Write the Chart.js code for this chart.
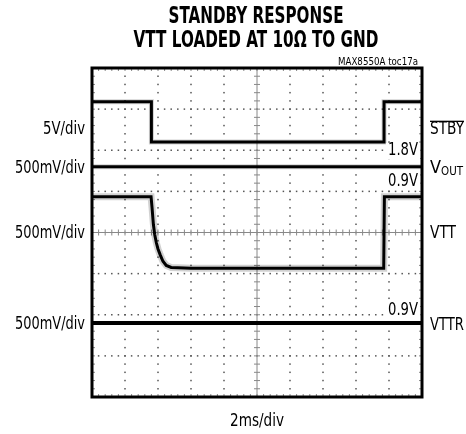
<!DOCTYPE html>
<html>
<head>
<meta charset="utf-8">
<script src="https://cdn.jsdelivr.net/npm/chart.js@4.4.0/dist/chart.umd.min.js"></script>
<style>
  body { margin: 0; background: #fff; }
  #wrap { width: 466px; height: 434px; }
</style>
</head>
<body>
<div id="wrap"><canvas id="scope" width="466" height="434"></canvas></div>
<script>
// time in divisions (2ms/div), level in divisions from the bottom of the screen
const stbyT = [0, 1.8, 1.8, 8.85, 8.85, 10];
const stbyV = [7.18, 7.18, 6.2, 6.2, 7.18, 7.18];
const voutT = [0, 10];
const voutV = [5.6, 5.6];
const vttT = [0, 1.79, 1.82, 1.86, 1.9, 1.95, 2.0, 2.07, 2.15, 2.25, 2.4, 3.0, 8.84, 8.86, 10];
const vttV = [4.87, 4.87, 4.6, 4.2, 3.95, 3.75, 3.6, 3.45, 3.3, 3.2, 3.15, 3.13, 3.13, 4.87, 4.87];
const vttrT = [0, 10];
const vttrV = [1.8, 1.8];

const leftLabels = ['5V/div', '500mV/div', '500mV/div', '500mV/div'];
const leftLevels = [6.5, 5.55, 3.98, 1.75];
const rightLabels = ['STBY', 'VOUT', 'VTT', 'VTTR'];
const rightLevels = [6.5, 5.55, 3.98, 1.75];
const levelTags = ['1.8V', '0.9V', '0.9V'];
const levelTagY = [5.98, 5.25, 2.1];

const NARROW = '"Liberation Sans Narrow", "DejaVu Sans Condensed", "Roboto Condensed", sans-serif';

function pts(t, v) {
    return t.map((x, i) => ({ x: x, y: v[i] }));
}

function fitText(ctx, text, x, y, width, size, weight, align) {
    ctx.save();
    ctx.font = weight + ' ' + size + 'px ' + NARROW;
    const w = ctx.measureText(text).width;
    const s = width / w;
    ctx.translate(x, y);
    ctx.scale(s, 1);
    ctx.textBaseline = 'middle';
    ctx.textAlign = align;
    ctx.fillText(text, 0, 0);
    ctx.restore();
}

// dotted scope graticule with centre cross and edge ticks
const graticule = {
    id: 'graticule',
    beforeDatasetsDraw(chart) {
        const { ctx, chartArea: a, scales: { x, y } } = chart;
        ctx.save();
        ctx.fillStyle = '#555';
        for (let i = 1; i < 10; i++) {
            if (i === 5) continue;
            const px = x.getPixelForValue(i);
            for (let j = 0; j <= 40; j++) {
                ctx.fillRect(px - 0.75, y.getPixelForValue(j * 0.2) - 0.75, 1.5, 1.5);
            }
        }
        for (let j = 1; j < 8; j++) {
            if (j === 4) continue;
            const py = y.getPixelForValue(j);
            for (let i = 0; i <= 50; i++) {
                ctx.fillRect(x.getPixelForValue(i * 0.2) - 0.75, py - 0.75, 1.5, 1.5);
            }
        }
        // centre cross
        ctx.strokeStyle = '#888';
        ctx.lineWidth = 1;
        const cx = x.getPixelForValue(5), cy = y.getPixelForValue(4);
        ctx.beginPath();
        ctx.moveTo(cx, a.top); ctx.lineTo(cx, a.bottom);
        ctx.moveTo(a.left, cy); ctx.lineTo(a.right, cy);
        for (let j = 0; j <= 40; j++) {
            const py = y.getPixelForValue(j * 0.2);
            ctx.moveTo(cx - 3, py); ctx.lineTo(cx + 3, py);
        }
        for (let i = 0; i <= 50; i++) {
            const px = x.getPixelForValue(i * 0.2);
            ctx.moveTo(px, cy - 3); ctx.lineTo(px, cy + 3);
            ctx.moveTo(px, a.top); ctx.lineTo(px, a.top + 3);
            ctx.moveTo(px, a.bottom); ctx.lineTo(px, a.bottom - 3);
        }
        for (let j = 0; j <= 40; j++) {
            const py = y.getPixelForValue(j * 0.2);
            ctx.moveTo(a.left, py); ctx.lineTo(a.left + 3, py);
            ctx.moveTo(a.right, py); ctx.lineTo(a.right - 3, py);
        }
        ctx.stroke();
        ctx.restore();
    },
    afterDraw(chart) {
        const { ctx, chartArea: a, scales: { x, y } } = chart;
        ctx.save();
        // frame
        ctx.strokeStyle = '#000';
        ctx.lineWidth = 3;
        ctx.strokeRect(a.left, a.top, a.right - a.left, a.bottom - a.top);

        ctx.fillStyle = '#000';
        // title
        fitText(ctx, 'STANDBY RESPONSE', 256, 17, 175, 23, 'bold', 'center');
        fitText(ctx, 'VTT LOADED AT 10\u03A9 TO GND', 256, 41, 245, 23, 'bold', 'center');
        fitText(ctx, 'MAX8550A toc17a', 418, 62, 80, 11, 'normal', 'right');

        // channel scales on the left
        leftLabels.forEach((t, i) => {
            fitText(ctx, t, 85, y.getPixelForValue(leftLevels[i]), t.length > 6 ? 70 : 42, 17, 'normal', 'right');
        });

        // level tags inside the screen
        levelTags.forEach((t, i) => {
            const py = y.getPixelForValue(levelTagY[i]);
            ctx.fillStyle = '#fff';
            ctx.fillRect(a.right - 36, py - 8, 34, 16);
            ctx.fillStyle = '#000';
            fitText(ctx, t, a.right - 4, py, 30, 17, 'normal', 'right');
        });

        // channel names on the right
        const rx = a.right + 8;
        let py = y.getPixelForValue(rightLevels[0]);
        fitText(ctx, 'STBY', rx, py, 34, 18, 'normal', 'left');
        ctx.fillRect(rx, py - 9, 34, 1.3);
        py = y.getPixelForValue(rightLevels[1]);
        fitText(ctx, 'V', rx, py, 11, 18, 'normal', 'left');
        fitText(ctx, 'OUT', rx + 11, py + 3, 22, 13, 'normal', 'left');
        py = y.getPixelForValue(rightLevels[2]);
        fitText(ctx, 'VTT', rx, py, 26, 18, 'normal', 'left');
        py = y.getPixelForValue(rightLevels[3]);
        fitText(ctx, 'VTTR', rx, py, 34, 18, 'normal', 'left');

        // time base
        fitText(ctx, '2ms/div', (a.left + a.right) / 2, 422, 54, 17, 'normal', 'center');
        ctx.restore();
    }
};

function trace(label, t, v, width, color) {
    return {
        label: label,
        data: pts(t, v),
        borderColor: color,
        borderWidth: width,
        pointRadius: 0,
        tension: 0,
        fill: false
    };
}

const ctx = document.getElementById('scope').getContext('2d');
const scopeChart = new Chart(ctx, {
    type: 'line',
    data: {
        datasets: [
            // fuzz (noise band) under each trace
            trace('VTT noise', vttT, vttV, 7, 'rgba(0,0,0,0.18)'),
            trace('STBY noise', stbyT, stbyV, 5, 'rgba(0,0,0,0.18)'),
            trace('VOUT noise', voutT, voutV, 5, 'rgba(0,0,0,0.18)'),
            trace('STBY', stbyT, stbyV, 3, '#000'),
            trace('VOUT', voutT, voutV, 3, '#000'),
            trace('VTT', vttT, vttV, 3, '#000'),
            trace('VTTR', vttrT, vttrV, 4, '#000')
        ]
    },
    options: {
        responsive: false,
        animation: false,
        layout: { padding: { left: 92, right: 44, top: 68, bottom: 37 } },
        plugins: {
            legend: { display: false },
            tooltip: { enabled: false }
        },
        scales: {
            x: { type: 'linear', min: 0, max: 10, display: false },
            y: { type: 'linear', min: 0, max: 8, display: false }
        }
    },
    plugins: [graticule]
});
</script>
</body>
</html>
